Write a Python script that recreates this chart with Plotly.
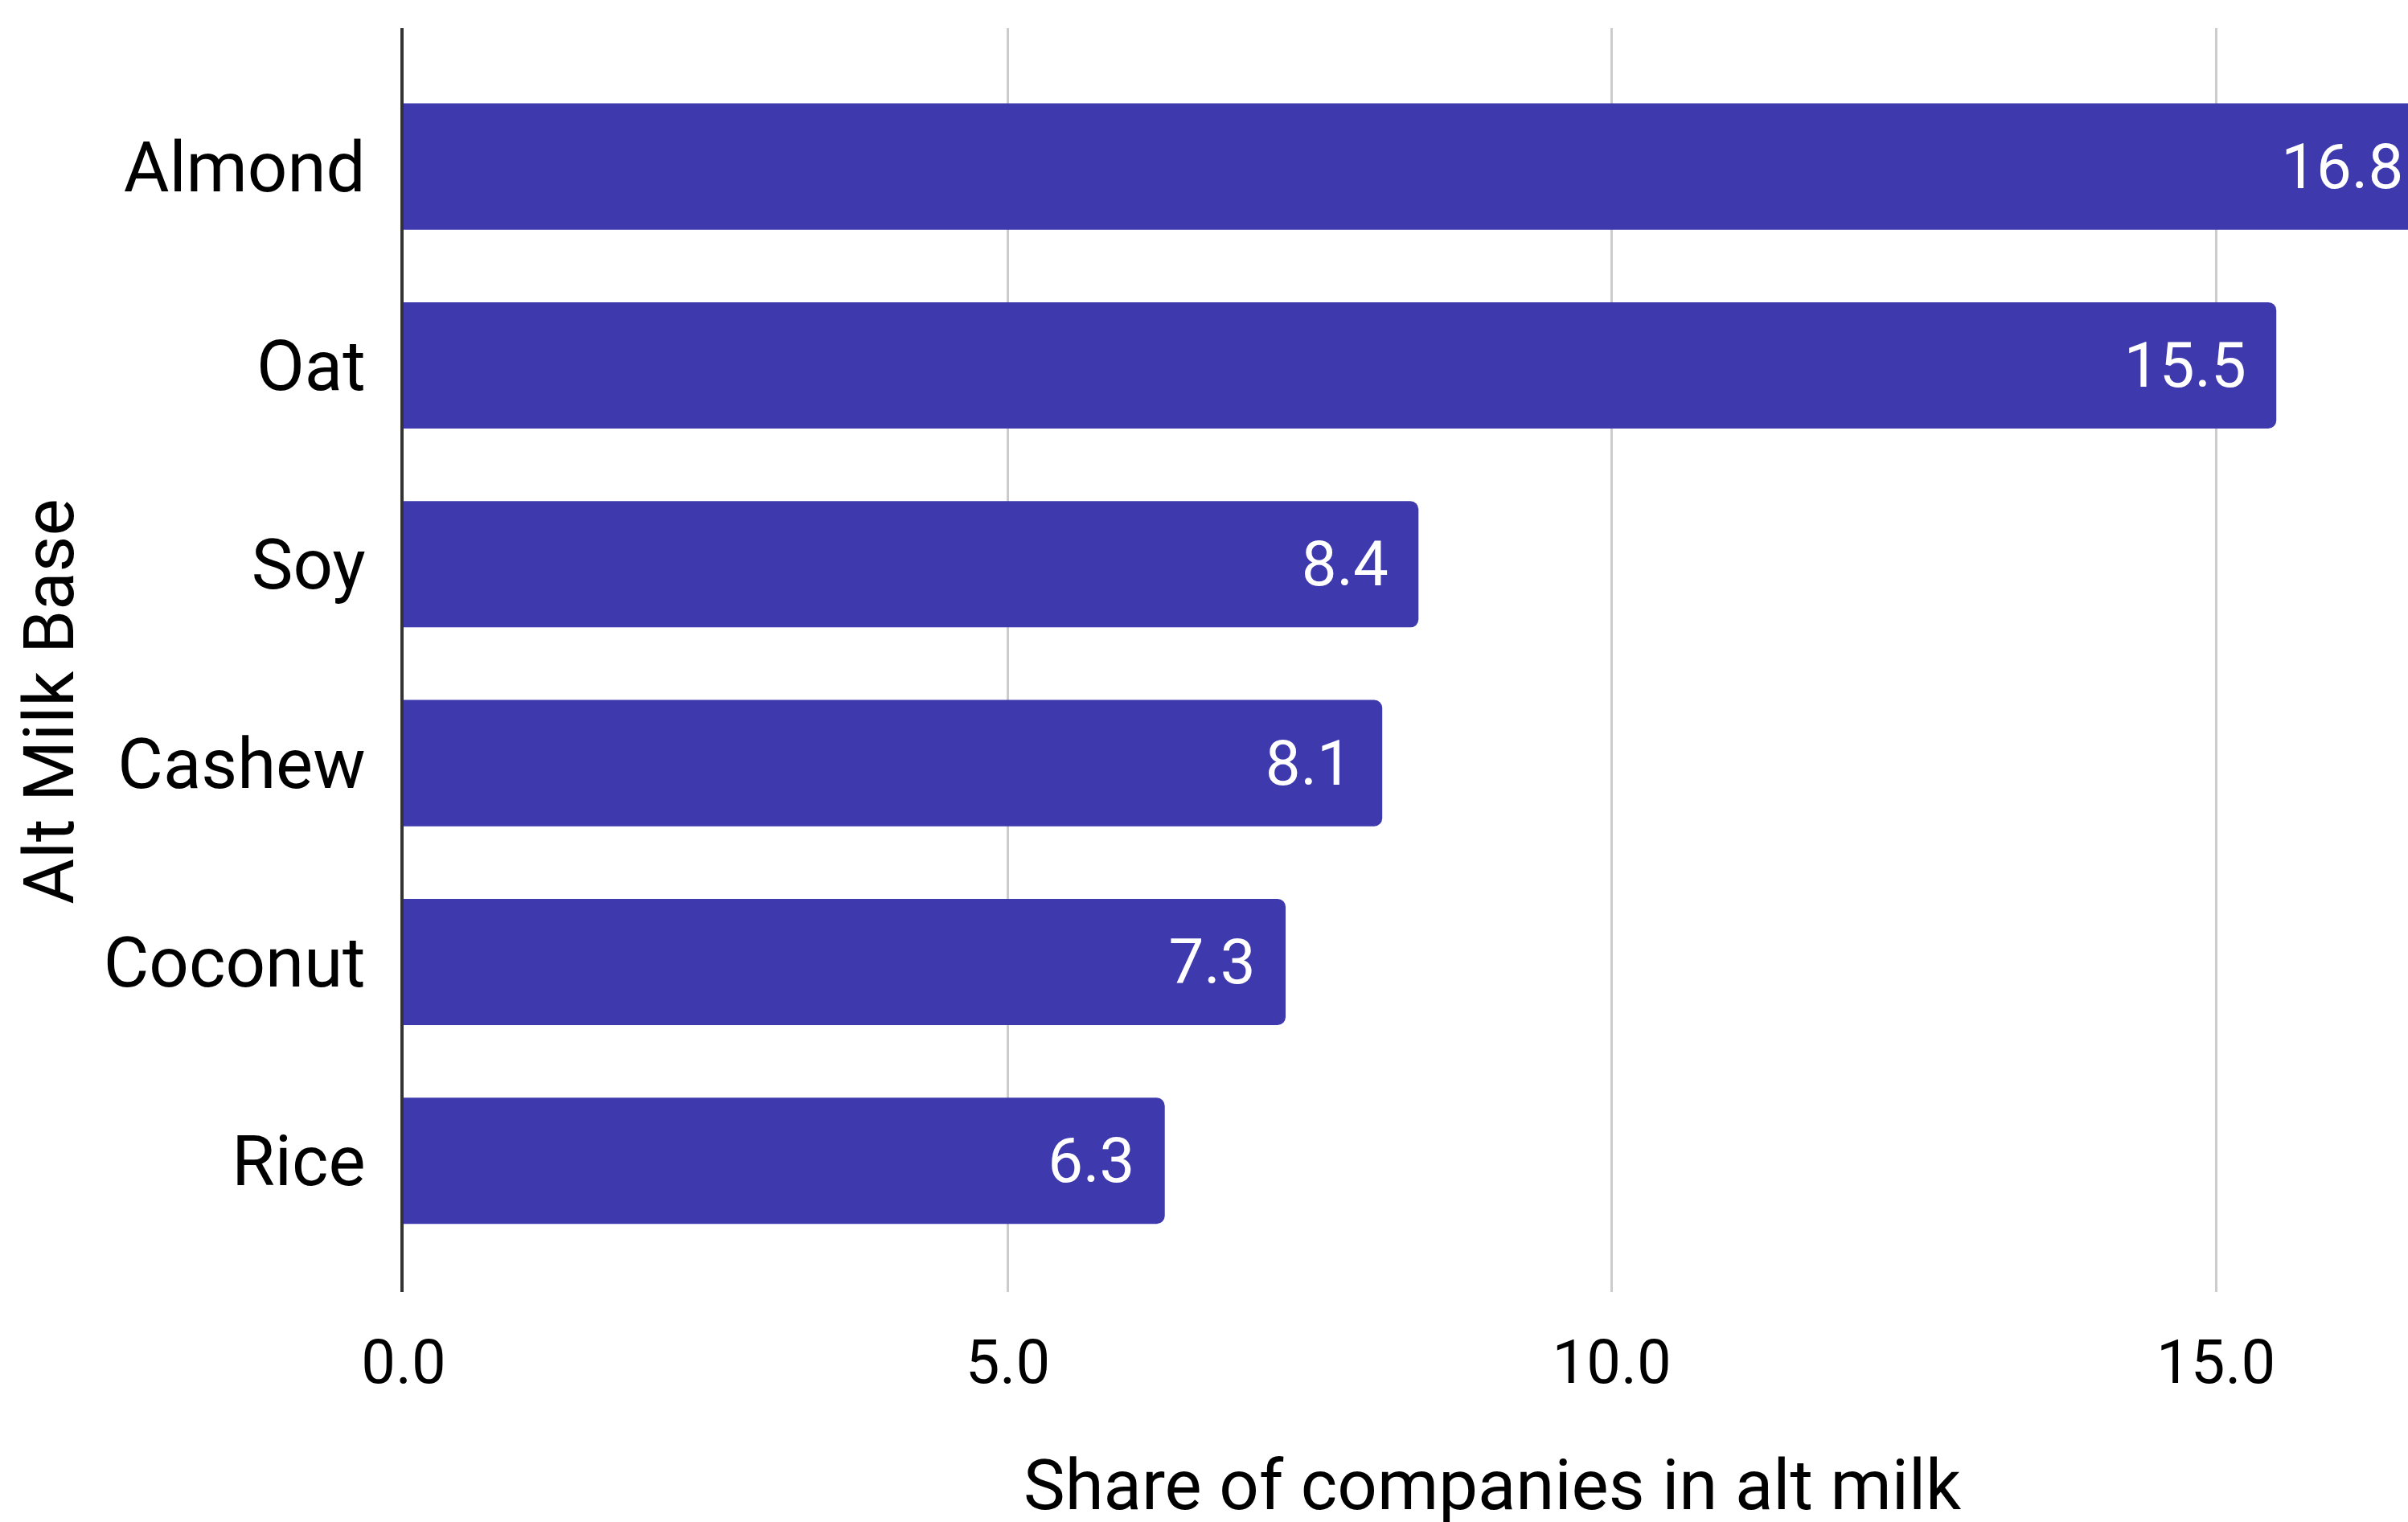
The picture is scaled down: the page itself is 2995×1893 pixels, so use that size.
import plotly.graph_objects as go

categories = ["Rice", "Coconut", "Cashew", "Soy", "Oat", "Almond"]
values = [6.3, 7.3, 8.1, 8.4, 15.5, 16.8]
x_ticks = [0, 5, 10, 15]
x_tick_labels = ["0.0", "5.0", "10.0", "15.0"]

W, H = 2995, 1893
ML, MR, MT, MB = 502, 0, 35, 286
FONT = "Roboto"
BAR = "#3e3aae"

fig = go.Figure()
fig.add_trace(go.Bar(
    x=values,
    y=categories,
    orientation="h",
    width=0.635,
    marker=dict(color=BAR, line=dict(width=0), cornerradius=10),
    text=[f"{v:.1f}\u00a0\u200a" for v in values],
    textposition="inside",
    insidetextanchor="end",
    textangle=0,
    textfont=dict(family=FONT, size=78, color="white"),
    hoverinfo="skip",
))

fig.update_layout(
    width=W, height=H,
    margin=dict(l=ML, r=MR, t=MT, b=MB, pad=0, autoexpand=False),
    paper_bgcolor="white", plot_bgcolor="white",
    showlegend=False,
    font=dict(family=FONT, color="#000000"),
    xaxis=dict(
        range=[0, 16.59],
        automargin=False,
        tickvals=x_ticks, ticktext=x_tick_labels,
        showgrid=True, gridcolor="#cccccc", gridwidth=3,
        zeroline=False, showline=False, ticks="",
        tickfont=dict(family=FONT, size=76, color="#000000"),
        ticklabelstandoff=36,
    ),
    yaxis=dict(
        type="category",
        automargin=False,
        categoryorder="array", categoryarray=categories,
        range=[-0.66, 5.696],
        showgrid=False, zeroline=False,
        showline=True, linecolor="#333333", linewidth=4,
        ticks="",
        tickfont=dict(family=FONT, size=87, color="#000000"),
        ticklabelstandoff=26,
    ),
    annotations=[
        dict(text="Share of companies in alt milk", xref="paper", yref="paper",
             x=0.5435, y=-0.1525, xanchor="center", yanchor="middle",
             showarrow=False, font=dict(family=FONT, size=87, color="#000000")),
        dict(text="Alt Milk Base", xref="paper", yref="paper",
             x=-0.1769, y=0.467, xanchor="center", yanchor="middle", textangle=-90,
             showarrow=False, font=dict(family=FONT, size=87, color="#000000")),
    ],
)

fig.write_html(
    "out.html",
    config={"displayModeBar": False},
    post_script="document.body.style.margin='0';document.body.style.overflow='hidden';",
)
